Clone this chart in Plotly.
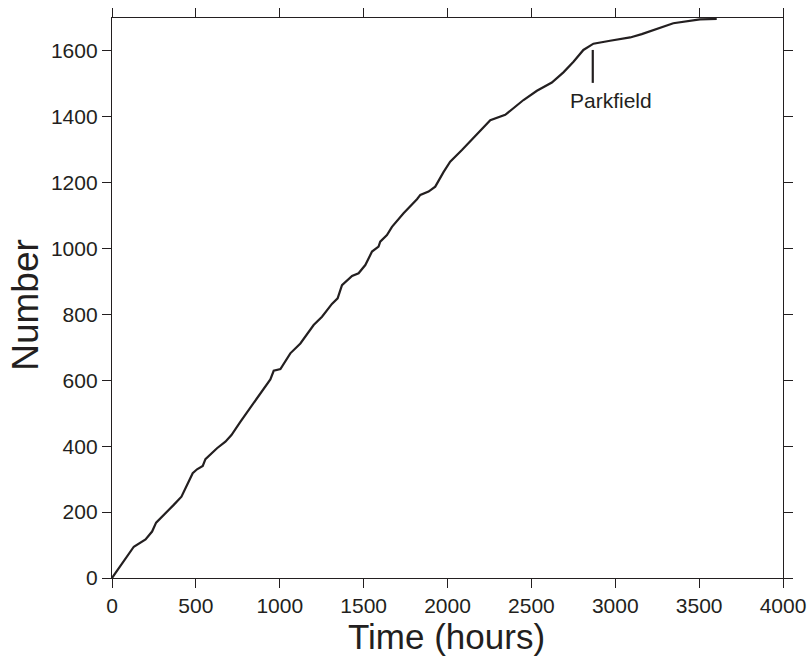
import plotly.graph_objects as go

# Cumulative event count versus elapsed time
time_hours = [0, 130, 200, 239, 263, 299, 368, 414, 448, 481, 507, 541, 557, 626,
              676, 712, 765, 835, 894, 944, 964, 1004, 1063, 1123, 1202, 1252, 1311,
              1345, 1371, 1431, 1470, 1510, 1550, 1589, 1599, 1639, 1669, 1738, 1818,
              1838, 1887, 1927, 1977, 2016, 2086, 2125, 2195, 2255, 2344, 2453, 2533,
              2622, 2691, 2751, 2810, 2870, 2969, 3089, 3158, 3267, 3346, 3505, 3605]
count = [0, 95, 117, 141, 168, 186, 222, 247, 282, 318, 330, 340, 361, 394,
         414, 434, 474, 525, 570, 603, 629, 634, 682, 712, 768, 793, 832,
         849, 889, 917, 925, 950, 991, 1006, 1021, 1041, 1066, 1107, 1150,
         1163, 1173, 1188, 1233, 1264, 1299, 1320, 1360, 1390, 1406, 1451, 1479,
         1504, 1535, 1567, 1603, 1622, 1631, 1641, 1651, 1669, 1684, 1696, 1697]

# Parkfield event marker
event_label = "Parkfield"
event_time = 2866
event_span = [1503, 1603]
label_pos = [2975, 1451]

x_ticks = [0, 500, 1000, 1500, 2000, 2500, 3000, 3500, 4000]
y_ticks = [0, 200, 400, 600, 800, 1000, 1200, 1400, 1600]

x_title = "Time (hours)"
y_title = "Number"

FONT = "Liberation Sans, Arial, Helvetica, sans-serif"
INK = "#231f20"

fig = go.Figure()
fig.add_trace(go.Scatter(x=time_hours, y=count, mode="lines",
                         line=dict(color=INK, width=2.2), showlegend=False,
                         hoverinfo="skip"))

fig.add_shape(type="line", xref="x", yref="y",
              x0=event_time, x1=event_time, y0=event_span[0], y1=event_span[1],
              line=dict(color=INK, width=2.2))
fig.add_annotation(x=label_pos[0], y=label_pos[1], xref="x", yref="y",
                   text=event_label, showarrow=False,
                   font=dict(family=FONT, size=21, color=INK))

# axis titles placed just outside the frame
fig.add_annotation(x=0.499, y=-0.105, xref="paper", yref="paper",
                   xanchor="center", yanchor="middle", text=x_title,
                   showarrow=False, borderpad=0,
                   font=dict(family=FONT, size=35, color=INK))
fig.add_annotation(x=-0.13, y=0.4875, xref="paper", yref="paper",
                   xanchor="center", yanchor="middle", text=y_title,
                   textangle=-90, showarrow=False, borderpad=0,
                   font=dict(family=FONT, size=37, color=INK))

axis_common = dict(showline=True, linecolor=INK, linewidth=1.4, mirror="ticks",
                   ticks="outside", ticklen=9, tickwidth=1.2, tickcolor=INK,
                   showgrid=False, zeroline=False, automargin=False,
                   tickfont=dict(family=FONT, size=21, color=INK))

fig.update_xaxes(range=[0, 4000], tickvals=x_ticks, **axis_common)
fig.update_yaxes(range=[0, 1700], tickvals=y_ticks, **axis_common)

fig.update_layout(width=809, height=656, margin=dict(l=112, r=26, t=18, b=78),
                  plot_bgcolor="white", paper_bgcolor="white")

fig.write_html("out.html")
